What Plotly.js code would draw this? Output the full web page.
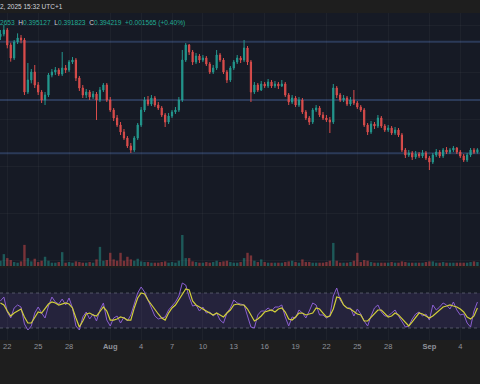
<!DOCTYPE html>
<html><head><meta charset="utf-8">
<script src="https://cdn.plot.ly/plotly-3.0.1.min.js"></script>
<style>html,body{margin:0;padding:0;background:#1e1e1e;}#chart{width:480px;height:384px;}</style>
</head><body><div id="chart"></div>
<script>
const startTime = Date.UTC(2025, 6, 21, 8, 0, 0);
const stepHours = 8;

const openP = [0.4620,0.4636,0.4660,0.4570,0.4492,0.4588,0.4612,0.4600,0.4288,0.4360,
0.4408,0.4330,0.4288,0.4240,0.4270,0.4390,0.4408,0.4420,0.4396,0.4432,
0.4420,0.4468,0.4480,0.4372,0.4312,0.4270,0.4288,0.4258,0.4276,0.4240,
0.4300,0.4330,0.4240,0.4180,0.4132,0.4090,0.4048,0.4012,0.3964,0.3940,
0.4012,0.4090,0.4180,0.4240,0.4216,0.4252,0.4210,0.4192,0.4150,0.4108,
0.4144,0.4168,0.4180,0.4240,0.4480,0.4570,0.4528,0.4468,0.4504,0.4480,
0.4492,0.4456,0.4408,0.4432,0.4510,0.4480,0.4408,0.4360,0.4432,0.4468,
0.4492,0.4480,0.4552,0.4468,0.4288,0.4330,0.4300,0.4336,0.4324,0.4348,
0.4324,0.4336,0.4324,0.4336,0.4270,0.4228,0.4252,0.4210,0.4240,0.4168,
0.4132,0.4108,0.4180,0.4192,0.4150,0.4132,0.4120,0.4108,0.4312,0.4270,
0.4240,0.4252,0.4216,0.4240,0.4222,0.4198,0.4180,0.4090,0.4048,0.4096,
0.4084,0.4132,0.4084,0.4060,0.4072,0.4042,0.4060,0.4030,0.3940,0.3910,
0.3922,0.3898,0.3916,0.3904,0.3922,0.3892,0.3868,0.3910,0.3928,0.3904,
0.3940,0.3928,0.3940,0.3952,0.3928,0.3904,0.3880,0.3910,0.3940,0.3927];

const closeP = [0.4636,0.4660,0.4570,0.4492,0.4588,0.4612,0.4600,0.4288,0.4360,0.4408,
0.4330,0.4288,0.4240,0.4270,0.4390,0.4408,0.4420,0.4396,0.4432,0.4420,
0.4468,0.4480,0.4372,0.4312,0.4270,0.4288,0.4258,0.4276,0.4240,0.4300,
0.4330,0.4240,0.4180,0.4132,0.4090,0.4048,0.4012,0.3964,0.3940,0.4012,
0.4090,0.4180,0.4240,0.4216,0.4252,0.4210,0.4192,0.4150,0.4108,0.4144,
0.4168,0.4180,0.4240,0.4480,0.4570,0.4528,0.4468,0.4504,0.4480,0.4492,
0.4456,0.4408,0.4432,0.4510,0.4480,0.4408,0.4360,0.4432,0.4468,0.4492,
0.4480,0.4552,0.4468,0.4288,0.4330,0.4300,0.4336,0.4324,0.4348,0.4324,
0.4336,0.4324,0.4336,0.4270,0.4228,0.4252,0.4210,0.4240,0.4168,0.4132,
0.4108,0.4180,0.4192,0.4150,0.4132,0.4120,0.4108,0.4312,0.4270,0.4240,
0.4252,0.4216,0.4240,0.4222,0.4198,0.4180,0.4090,0.4048,0.4096,0.4084,
0.4132,0.4084,0.4060,0.4072,0.4042,0.4060,0.4030,0.3940,0.3910,0.3922,
0.3898,0.3916,0.3904,0.3922,0.3892,0.3868,0.3910,0.3928,0.3904,0.3940,
0.3928,0.3940,0.3952,0.3928,0.3904,0.3880,0.3910,0.3940,0.3927,0.3942];

const highP = [0.4660,0.4690,0.4672,0.4584,0.4600,0.4640,0.4630,0.4612,0.4462,0.4426,
0.4450,0.4348,0.4300,0.4288,0.4402,0.4426,0.4438,0.4432,0.4528,0.4450,
0.4480,0.4498,0.4492,0.4384,0.4330,0.4306,0.4300,0.4294,0.4288,0.4318,
0.4342,0.4342,0.4258,0.4192,0.4150,0.4108,0.4066,0.4024,0.3982,0.4024,
0.4102,0.4198,0.4258,0.4264,0.4270,0.4264,0.4228,0.4204,0.4162,0.4162,
0.4180,0.4198,0.4258,0.4540,0.4582,0.4576,0.4540,0.4522,0.4516,0.4510,
0.4504,0.4468,0.4450,0.4540,0.4522,0.4492,0.4420,0.4444,0.4480,0.4510,
0.4504,0.4600,0.4564,0.4480,0.4348,0.4342,0.4354,0.4348,0.4366,0.4360,
0.4354,0.4348,0.4360,0.4348,0.4282,0.4270,0.4264,0.4258,0.4252,0.4180,
0.4144,0.4192,0.4210,0.4204,0.4168,0.4150,0.4138,0.4336,0.4324,0.4282,
0.4270,0.4264,0.4258,0.4300,0.4234,0.4210,0.4192,0.4102,0.4114,0.4108,
0.4150,0.4144,0.4096,0.4090,0.4084,0.4078,0.4072,0.4042,0.3952,0.3940,
0.3934,0.3934,0.3928,0.3940,0.3934,0.3904,0.3922,0.3946,0.3940,0.3952,
0.3958,0.3952,0.3964,0.3958,0.3940,0.3916,0.3922,0.3952,0.3952,0.3951];

const lowP = [0.4600,0.4622,0.4550,0.4470,0.4480,0.4576,0.4580,0.4270,0.4276,0.4340,
0.4312,0.4270,0.4222,0.4210,0.4258,0.4376,0.4390,0.4384,0.4384,0.4402,
0.4408,0.4456,0.4354,0.4294,0.4252,0.4252,0.4240,0.4246,0.4120,0.4228,
0.4288,0.4228,0.4168,0.4114,0.4078,0.4030,0.4000,0.3952,0.3922,0.3928,
0.4000,0.4078,0.4168,0.4204,0.4204,0.4198,0.4180,0.4138,0.4078,0.4096,
0.4132,0.4156,0.4168,0.4228,0.4468,0.4510,0.4450,0.4456,0.4462,0.4468,
0.4444,0.4396,0.4396,0.4420,0.4468,0.4396,0.4342,0.4348,0.4420,0.4456,
0.4462,0.4468,0.4450,0.4228,0.4276,0.4288,0.4294,0.4312,0.4312,0.4312,
0.4312,0.4306,0.4318,0.4258,0.4210,0.4216,0.4198,0.4198,0.4156,0.4120,
0.4090,0.4096,0.4168,0.4138,0.4120,0.4108,0.4042,0.4096,0.4252,0.4228,
0.4228,0.4204,0.4204,0.4210,0.4186,0.4168,0.4078,0.4030,0.4036,0.4066,
0.4072,0.4072,0.4048,0.4048,0.4030,0.4030,0.4018,0.3928,0.3892,0.3898,
0.3880,0.3886,0.3892,0.3892,0.3880,0.3820,0.3856,0.3898,0.3892,0.3892,
0.3916,0.3916,0.3928,0.3916,0.3892,0.3868,0.3868,0.3898,0.3916,0.3918];

const volume = [8,18,12,9,6,5,7,32,12,7, 11,6,8,14,8,5,5,6,21,5,
6,5,7,6,5,5,6,5,10,29, 8,9,20,10,8,20,8,14,10,8,
11,7,6,6,5,5,5,6,7,5, 6,5,8,47,12,12,7,6,5,5,
6,5,6,8,6,7,8,6,5,5, 6,12,20,16,8,6,10,6,5,5,
5,5,5,6,7,8,6,5,10,6, 6,5,5,5,5,6,8,35,8,5,
5,5,6,8,20,6,9,8,6,5, 5,5,5,5,6,5,5,7,6,5,
5,5,5,5,6,7,7,5,5,6, 5,5,5,5,5,5,5,6,7,6];

const rsi = [60.9,65.4,48.3,41.4,52.9,56.3,54.0,34.6,27.7,32.3,
47.1,54.0,47.1,41.4,55.1,65.4,59.7,57.4,63.1,56.3,
64.3,52.9,32.3,27.7,42.6,48.3,40.3,46.0,38.0,50.6,
58.6,39.1,32.3,41.4,43.7,35.7,42.6,38.0,44.9,56.3,
70.0,76.9,71.1,62.0,51.7,43.7,40.3,41.4,42.6,50.6,
55.1,59.7,66.6,81.4,79.1,65.4,55.1,56.3,49.4,54.0,
47.1,48.3,43.7,47.1,39.1,35.7,47.1,52.9,62.0,58.6,
57.4,56.3,43.7,31.1,30.0,44.9,49.4,49.4,52.9,49.4,
54.0,54.0,56.3,42.6,32.3,42.6,41.4,50.6,47.1,41.4,
49.4,58.6,56.3,44.9,44.9,41.4,43.7,66.6,75.7,62.0,
56.3,52.9,52.9,43.7,51.7,46.0,38.0,32.3,43.7,52.9,
56.3,48.3,43.7,43.7,47.1,50.6,43.7,36.9,31.1,32.3,
40.3,46.0,48.3,43.7,46.0,39.1,56.3,50.6,54.0,58.6,
56.3,51.7,59.7,50.6,44.9,46.0,35.7,31.1,49.4,59.7];

const rsiMA = [58.6,56.3,49.4,43.7,47.1,49.4,51.7,42.6,35.7,35.7,
42.6,48.3,47.1,52.9,57.4,59.7,58.6,56.3,57.4,58.6,
57.4,52.9,41.4,31.1,38.0,46.0,47.1,44.9,43.7,48.3,
54.0,49.4,39.1,39.1,40.3,42.6,41.4,39.1,39.1,52.9,
64.3,70.0,68.9,62.0,56.3,51.7,46.0,41.4,39.1,47.1,
52.9,56.3,62.0,68.9,74.6,73.4,60.9,56.3,54.0,51.7,
49.4,47.1,44.9,47.1,44.9,42.6,47.1,50.6,56.3,57.4,
56.3,56.3,51.7,44.9,38.0,40.3,43.7,48.3,49.4,50.6,
48.3,51.7,52.9,48.3,40.3,39.1,42.6,47.1,47.1,44.9,
46.0,47.1,52.9,51.7,47.1,42.6,43.7,51.7,65.4,64.3,
56.3,52.9,51.7,48.3,46.0,44.9,38.0,38.0,42.6,47.1,
50.6,50.6,46.0,42.6,43.7,47.1,44.9,40.3,36.9,32.3,
36.9,41.4,47.1,46.0,43.7,41.4,43.7,47.1,50.6,54.0,
55.1,56.3,55.1,54.0,51.7,48.3,42.6,40.3,43.7,52.9];

const supportLevels = [0.4590, 0.4240, 0.3920];
const rsiBand = [30, 70];

const tickDates = ['2025-07-22','2025-07-25','2025-07-28','2025-08-01','2025-08-04','2025-08-07','2025-08-10','2025-08-13','2025-08-16','2025-08-19','2025-08-22','2025-08-25','2025-08-28','2025-09-01','2025-09-04'];
const tickLabels = ['22','25','28','<b>Aug</b>','4','7','10','13','16','19','22','25','28','<b>Sep</b>','4'];

const headerDate = '2, 2025 15:32 UTC+1';
const headerO = '2653', headerH = '0.395127', headerL = '0.391823', headerC = '0.394219', headerChg = '+0.001565 (+0.40%)';

const times = openP.map((_, i) => new Date(startTime + i * stepHours * 3600000).toISOString().slice(0, 19).replace('T', ' '));

const UP = '#26a69a', DOWN = '#ef5350';
const volColors = closeP.map((c, i) => c >= openP[i] ? 'rgba(38,166,154,0.45)' : 'rgba(239,83,80,0.45)');

const traces = [
  { type: 'candlestick', x: times, open: openP, high: highP, low: lowP, close: closeP,
    xaxis: 'x', yaxis: 'y', whiskerwidth: 0, hoverinfo: 'skip', opacity: 0.9,
    increasing: { line: { color: UP, width: 1 }, fillcolor: UP },
    decreasing: { line: { color: DOWN, width: 1 }, fillcolor: DOWN } },
  { type: 'bar', x: times, y: volume, xaxis: 'x', yaxis: 'y2', marker: { color: volColors, line: { width: 0 } }, hoverinfo: 'skip' },
  { type: 'scatter', mode: 'lines', x: times, y: rsi, xaxis: 'x', yaxis: 'y3', line: { color: '#8a5fd0', width: 1 }, hoverinfo: 'skip' },
  { type: 'scatter', mode: 'lines', x: times, y: rsiMA, xaxis: 'x', yaxis: 'y3', line: { color: '#d2cf3a', width: 1.2 }, hoverinfo: 'skip' }
];

const H = 339, B = 352;
const fy = px => (B - px) / H;
const grid = 'rgba(255,255,255,0.035)';

const shapes = supportLevels.map(v => ({ type: 'line', xref: 'paper', x0: 0, x1: 1, yref: 'y', y0: v, y1: v, line: { color: '#2b3a58', width: 2 }, layer: 'below' }));
shapes.push({ type: 'rect', xref: 'paper', x0: 0, x1: 1, yref: 'y3', y0: rsiBand[0], y1: rsiBand[1], fillcolor: 'rgba(126,87,194,0.15)', line: { width: 0 }, layer: 'below' });
rsiBand.forEach(v => shapes.push({ type: 'line', xref: 'paper', x0: 0, x1: 1, yref: 'y3', y0: v, y1: v, line: { color: 'rgba(130,133,145,0.55)', width: 1, dash: '3px,3px' }, layer: 'below' }));

const teal = '#22ab94';
const annotations = [
  { xref: 'paper', yref: 'paper', x: 0, y: fy(7), xanchor: 'left', yanchor: 'middle', showarrow: false,
    text: headerDate, font: { family: 'Liberation Sans, Arial, sans-serif', size: 6.5, color: '#d1d4dc' }, borderpad: 0, xshift: -1 },
  { xref: 'paper', yref: 'paper', x: 0, y: fy(22.5), xanchor: 'left', yanchor: 'middle', showarrow: false,
    text: '<span style="color:' + teal + '">' + headerO + '</span>\u00a0\u00a0H<span style="color:' + teal + '">' + headerH + '</span>\u00a0\u00a0L<span style="color:' + teal + '">' + headerL + '</span>\u00a0\u00a0C<span style="color:' + teal + '">' + headerC + '</span>\u00a0\u00a0<span style="color:' + teal + '">' + headerChg + '</span>',
    font: { family: 'Liberation Sans, Arial, sans-serif', size: 6.6, color: '#d1d4dc' }, borderpad: 0, xshift: -1 }
];

const layout = {
  width: 480, height: 384,
  margin: { l: 0, r: 0, t: 13, b: 32, pad: 0 },
  paper_bgcolor: '#1e1e1e', plot_bgcolor: '#161a25',
  showlegend: false, bargap: 0.3, boxgap: 0.5,
  font: { family: 'Liberation Sans, Arial, sans-serif' },
  xaxis: { type: 'date', range: ['2025-07-21 07:00', '2025-09-05 22:00'], domain: [0, 1], anchor: 'y3',
    tickmode: 'array', tickvals: tickDates, ticktext: tickLabels, ticks: '', ticklen: 0,
    tickfont: { size: 7.5, color: '#8f929b' }, showgrid: true, gridcolor: grid, gridwidth: 1,
    showline: false, zeroline: false, rangeslider: { visible: false }, fixedrange: true },
  yaxis: { domain: [fy(266), 1], range: [0.3244, 0.4762], showticklabels: false, ticks: '',
    tickmode: 'linear', tick0: 0.328, dtick: 0.0282, showgrid: true, gridcolor: grid, zeroline: false, showline: false },
  yaxis2: { overlaying: 'y', range: [0, 383.3], visible: false, showgrid: false, zeroline: false },
  yaxis3: { domain: [fy(340), fy(268)], range: [16.29, 98.57], showticklabels: false, ticks: '', showgrid: false, zeroline: false, showline: false },
  shapes: shapes,
  annotations: annotations
};

Plotly.newPlot('chart', traces, layout, { displayModeBar: false, staticPlot: true });
</script>
</body></html>
